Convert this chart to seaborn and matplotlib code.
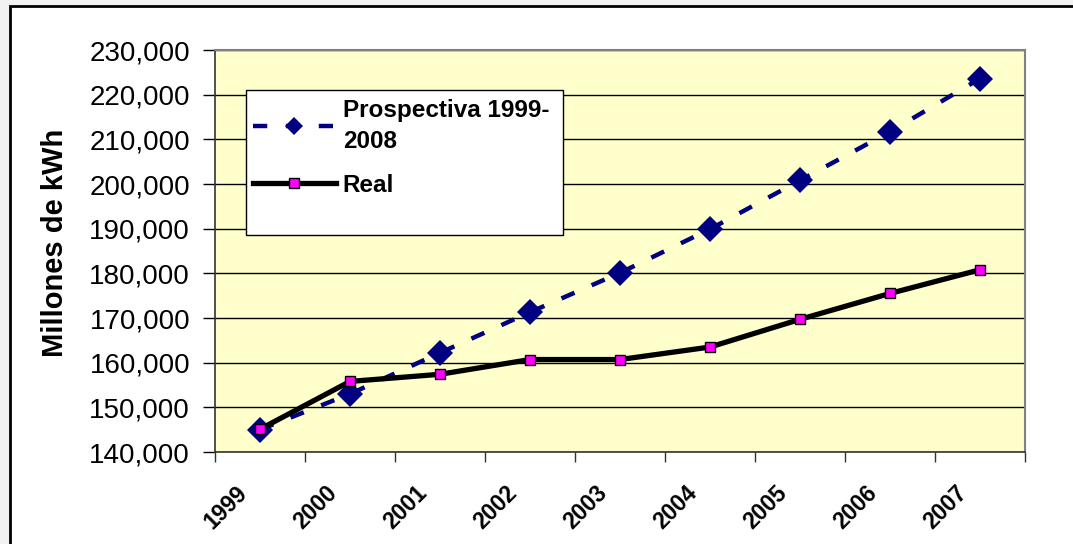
import numpy as np
import pandas as pd
import seaborn as sns
import matplotlib.pyplot as plt
from matplotlib.patches import Rectangle
from matplotlib.ticker import FuncFormatter
from matplotlib.transforms import ScaledTranslation

# datos
years = ['1999', '2000', '2001', '2002', '2003', '2004', '2005', '2006', '2007']
prospectiva = [145000, 153000, 162200, 171300, 180100, 189900, 200800, 211700, 223600]
real = [145100, 155800, 157400, 160700, 160700, 163500, 169700, 175500, 180800]

label_prosp = 'Prospectiva 1999-\n2008'
label_real = 'Real'

plt.rcParams['font.family'] = ['Liberation Sans', 'DejaVu Sans']

df = pd.DataFrame({'pos': np.arange(len(years)), 'prosp': prospectiva, 'real': real})

fig = plt.figure(figsize=(10.73, 5.44), dpi=100)
fig.patch.set_facecolor('#F2F2F2')
fig.patches.append(Rectangle((10 / 1073, -0.1), 1.1, 1.1 - 6 / 544, transform=fig.transFigure,
                             facecolor='white', edgecolor='black', linewidth=2, zorder=-10))

ax = fig.add_axes([215 / 1073, 1 - 452 / 544, 810 / 1073, 402 / 544])
ax.set_facecolor('#FFFFCC')

sns.lineplot(data=df, x='pos', y='prosp', ax=ax, color='#000080', linewidth=3.2,
             linestyle=(0, (3.2, 4.2)), marker='D', markersize=13.5, markeredgewidth=0,
             label=label_prosp, zorder=3)
sns.lineplot(data=df, x='pos', y='real', ax=ax, color='black', linewidth=3.8,
             marker='s', markersize=7, markerfacecolor='#FF00FF', markeredgecolor='black',
             markeredgewidth=1, label=label_real, zorder=4)

ax.set_xlim(-0.5, len(years) - 0.5)
ax.set_ylim(140000, 230000)
ax.set_yticks(np.arange(140000, 230001, 10000))
ax.yaxis.set_major_formatter(FuncFormatter(lambda v, p: f'{v:,.0f}'))
ax.grid(axis='y', color='black', linewidth=1)
ax.set_axisbelow(True)

ax.set_xticks(np.arange(len(years) + 1) - 0.5)
ax.set_xticklabels([])
ax.set_xticks(np.arange(len(years)), minor=True)
ax.set_xticklabels(years, minor=True, rotation=45, ha='right', va='center',
                   rotation_mode='anchor', fontsize=16.5, fontweight='bold')
ax.tick_params(axis='x', which='major', length=7, width=1, color='#333333')
ax.tick_params(axis='x', which='minor', length=0, pad=27)
off = ScaledTranslation(-16 / 100, 0, fig.dpi_scale_trans)
for lab in ax.get_xticklabels(minor=True):
    lab.set_transform(lab.get_transform() + off)

ax.tick_params(axis='y', length=9, width=1, pad=9, labelsize=20)

ax.set_xlabel('')
ax.set_ylabel('Millones de kWh', fontsize=21, fontweight='bold')
ax.yaxis.set_label_coords(-0.18, 0.52)

for s in ['left', 'bottom']:
    ax.spines[s].set_color('#333333')
    ax.spines[s].set_linewidth(1.2)
for s in ['top', 'right']:
    ax.spines[s].set_color('#808080')
    ax.spines[s].set_linewidth(1.5)

# caja de la leyenda
ax.add_patch(Rectangle((31 / 810, 217 / 402), 317 / 810, 145 / 402, transform=ax.transAxes,
                       facecolor='white', edgecolor='black', linewidth=1, zorder=5))
leg = ax.legend(loc='upper left', bbox_to_anchor=(33 / 810, 358 / 402), frameon=False,
                prop={'weight': 'bold', 'size': 17.5}, handlelength=3.4, handletextpad=0.3,
                labelspacing=0.85, borderpad=0.2, borderaxespad=0)
leg.set_zorder(6)
leg.get_texts()[0].set_linespacing(1.45)
leg.legend_handles[0].set_markersize(9.5)

fig.savefig('out.png', dpi=100)
